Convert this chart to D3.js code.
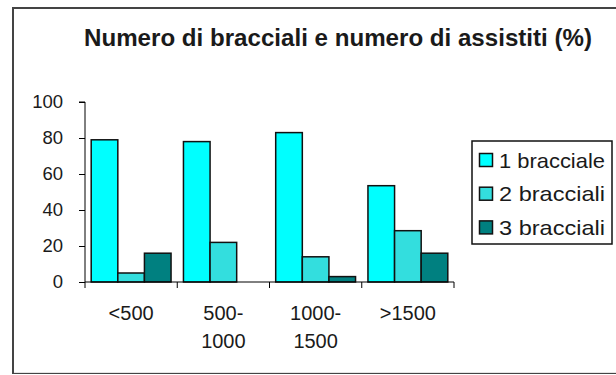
<!DOCTYPE html>
<meta charset="utf-8">
<style>
  body { margin: 0; background: #fff; }
  text { font-family: Arial, "Liberation Sans", sans-serif; fill: #1a1a1a; }
</style>
<svg width="616" height="375"></svg>
<script src="https://d3js.org/d3.v7.min.js"></script>
<script>

var categories = ["<500", "500-1000", "1000-1500", ">1500"],
    catLines = [["<500"], ["500-", "1000"], ["1000-", "1500"], [">1500"]],
    seriesNames = ["1 bracciale", "2 bracciali", "3 bracciali"],
    uno = [79, 78, 83, 53.5],
    due = [5, 22, 14, 28.5],
    tre = [16, 0, 3, 16],
    colors = ["#00ffff", "#33dede", "#008080"],
    yTicks = [0, 20, 40, 60, 80, 100];

var series = [uno, due, tre];

var svg = d3.select("svg"),
    width = +svg.attr("width"),
    height = +svg.attr("height");

// chart area frame
svg.append("rect")
    .attr("x", 13).attr("y", 8)
    .attr("width", 620).attr("height", 365)
    .attr("fill", "#fff")
    .attr("stroke", "#444")
    .attr("stroke-width", 2);
svg.append("line")
    .attr("x1", 14).attr("x2", 616)
    .attr("y1", 372.5).attr("y2", 372.5)
    .attr("stroke", "#e4e4e4");

svg.append("text")
    .attr("x", 338).attr("y", 46)
    .attr("text-anchor", "middle")
    .attr("font-size", 24)
    .attr("font-weight", "bold")
    .attr("textLength", 508)
    .attr("lengthAdjust", "spacingAndGlyphs")
    .text("Numero di bracciali e numero di assistiti (%)");

var x = d3.scaleBand()
    .domain(categories)
    .range([85, 454])
    .padding(0);

var x1 = d3.scaleBand()
    .domain(d3.range(series.length))
    .range([6.2, x.bandwidth() - 6.2]);

var y = d3.scaleLinear()
    .domain([0, 100])
    .range([282, 102]);

// bars
var groups = svg.append("g").selectAll("g")
    .data(categories)
    .enter().append("g")
    .attr("transform", function(d) { return "translate(" + x(d) + ",0)"; });

groups.selectAll("rect")
    .data(function(d, i) { return series.map(function(s, k) { return {k: k, v: s[i]}; }); })
    .enter().filter(function(d) { return d.v > 0; }).append("rect")
    .attr("x", function(d) { return x1(d.k); })
    .attr("width", x1.bandwidth())
    .attr("y", function(d) { return y(d.v); })
    .attr("height", function(d) { return y(0) - y(d.v); })
    .attr("fill", function(d) { return colors[d.k]; })
    .attr("stroke", "#111")
    .attr("stroke-width", 1.5);

// y axis
var yAxis = svg.append("g")
    .attr("transform", "translate(85,0)")
    .call(d3.axisLeft(y).tickValues(yTicks).tickSize(6).tickPadding(16));
yAxis.selectAll("text").attr("font-size", 18.5).attr("font-family", null).attr("fill", "#1a1a1a");
yAxis.select(".domain").attr("d", "M-6," + y(100) + "H0V" + y(0));

// x axis
var xAxis = svg.append("g")
    .attr("transform", "translate(0," + y(0) + ")")
    .call(d3.axisBottom(x).tickSize(0).tickFormat(""));
xAxis.select(".domain").attr("d", "M85,0H454");
xAxis.selectAll(".xt")
    .data(categories.concat(["end"]))
    .enter().append("line")
    .attr("x1", function(d, i) { return 85 + i * x.bandwidth(); })
    .attr("x2", function(d, i) { return 85 + i * x.bandwidth(); })
    .attr("y1", 0).attr("y2", 6)
    .attr("stroke", "#000");

var xl = svg.append("g").selectAll("text")
    .data(categories)
    .enter().append("text")
    .attr("x", function(d) { return x(d) + x.bandwidth() / 2; })
    .attr("y", 320)
    .attr("text-anchor", "middle")
    .attr("font-size", 20);
xl.selectAll("tspan")
    .data(function(d, i) { return catLines[i]; })
    .enter().append("tspan")
    .attr("x", function() { return d3.select(this.parentNode).attr("x"); })
    .attr("dy", function(d, i) { return i ? 28 : 0; })
    .text(function(d) { return d; });

// legend
var lg = svg.append("g");
lg.append("rect")
    .attr("x", 472).attr("y", 141)
    .attr("width", 140).attr("height", 103)
    .attr("fill", "#fff")
    .attr("stroke", "#111")
    .attr("stroke-width", 1.5);
var li = lg.selectAll("g")
    .data(seriesNames)
    .enter().append("g")
    .attr("transform", function(d, i) { return "translate(0," + (160 + i * 33.7) + ")"; });
li.append("rect")
    .attr("x", 479.5).attr("y", -6.5)
    .attr("width", 13).attr("height", 13)
    .attr("fill", function(d, i) { return colors[i]; })
    .attr("stroke", "#111")
    .attr("stroke-width", 1.5);
li.append("text")
    .attr("x", 499).attr("y", 7.5)
    .attr("font-size", 21)
    .attr("textLength", 106)
    .attr("lengthAdjust", "spacingAndGlyphs")
    .text(function(d) { return d; });

</script>
